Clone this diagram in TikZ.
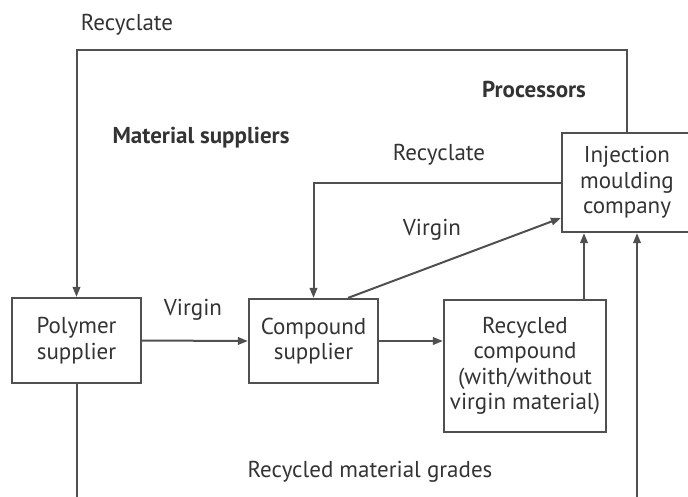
\documentclass[tikz,border=0pt]{standalone}
\usepackage{fontspec}
\setmainfont{PT Sans}
\usetikzlibrary{arrows.meta,calc}
\definecolor{ink}{HTML}{333333}
\definecolor{wire}{HTML}{505050}
\tikzset{
  box/.style={draw=wire,line width=2.2pt,rectangle,align=center,text=ink,
    font=\fontsize{23}{25.5}\selectfont,inner sep=0pt},
  line/.style={draw=wire,line width=2pt},
  flow/.style={line,-{Triangle[length=10pt,width=7.5pt]}},
  lbl/.style={text=ink,font=\fontsize{23}{25.5}\selectfont,inner sep=0pt},
  head/.style={lbl,font=\fontsize{23}{25.5}\selectfont\bfseries},
}

\begin{document}
\begin{tikzpicture}[x=1pt,y=-1pt]
    \useasboundingbox (0,0) rectangle (688,496);
    \clip (0,0) rectangle (688,496);
    % ---- the four companies ----
    \node[box,minimum width=129pt,minimum height=85pt] (poly) at (76.5,340.5) {Polymer\\ supplier};
    \node[box,minimum width=129pt,minimum height=84pt] (comp) at (313.5,341) {Compound\\ supplier};
    \node[box,minimum width=162pt,minimum height=132pt] (rec) at (525,366) {Recycled\\ compound\\ (with/without\\ virgin material)};
    \node[box,minimum width=130pt,minimum height=99pt] (inj) at (627,182.5) {Injection\\ moulding\\ company};
    \coordinate (top) at (0,50);
    \coordinate (bot) at (0,497);
    \coordinate (u1) at ($(inj.south)+(-43,0)$);
    \coordinate (u2) at ($(inj.south)+(10,0)$);
    % ---- flows ----
    \draw[flow] (inj.north) -- (inj.north |- top) -| (poly.north);
    \draw[flow] (inj.west) -| (comp.north);
    \draw[flow] ($(comp.north)+(34.5,0)$) -- ($(inj.west)+(0,35.5)$);
    \draw[flow] (poly.east) -- (comp.west);
    \draw[flow] (comp.east) -- (rec.west |- comp.east);
    \draw[flow] (u1 |- rec.north) -- (u1);
    \draw[flow] (u2 |- bot) -- (u2);
    \draw[line] (poly.south) -- (poly.south |- bot);
    % ---- labels ----
    \node[lbl] (rc1) at (127,25) {Recyclate};
    \node[head] (proc) at (534,89) {Processors};
    \node[head] (mats) at (201,138) {Material suppliers};
    \node[lbl] (rc2) at (439,155) {Recyclate};
    \node[lbl] (vg1) at (432,230) {Virgin};
    \node[lbl] (vg2) at (193,310) {Virgin};
    \node[lbl] (grades) at (370,472) {Recycled material grades};
  \end{tikzpicture}
\end{document}
